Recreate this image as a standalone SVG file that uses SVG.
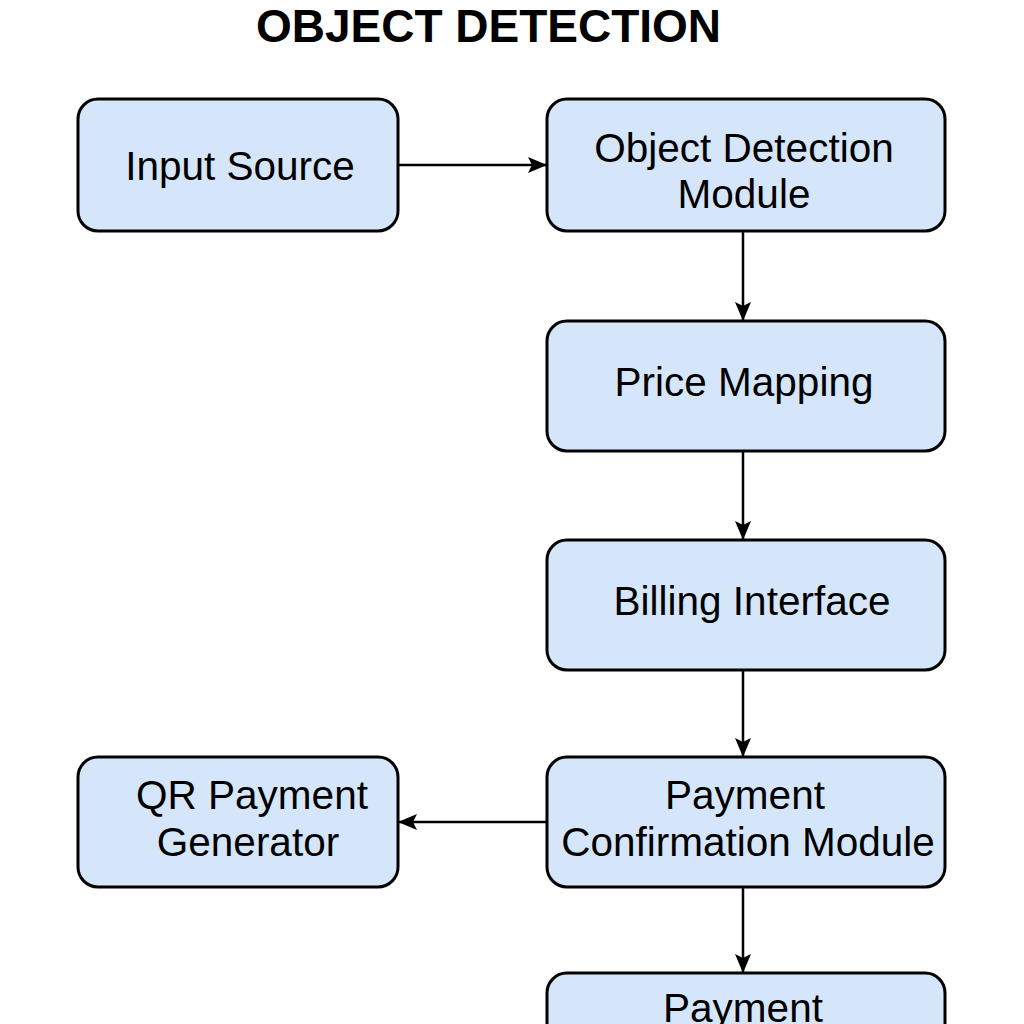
<svg xmlns="http://www.w3.org/2000/svg" width="1024" height="1024" viewBox="0 0 1024 1024">
<style>
.box{fill:#d6e6fa;stroke:#000;stroke-width:3}
.lbl{font-family:"Liberation Sans",Arial,sans-serif;font-size:40.5px;fill:#000;text-anchor:middle}
.title{font-family:"Liberation Sans",Arial,sans-serif;font-size:46px;font-weight:bold;fill:#000;text-anchor:middle}
.conn{stroke:#000;stroke-width:2.5;fill:none;marker-end:url(#arr)}
</style>
<defs>
<marker id="arr" viewBox="0 0 20 20" refX="18" refY="10" markerWidth="20" markerHeight="20" markerUnits="userSpaceOnUse" orient="auto">
<path d="M0,2 L19,10 L0,18 L4,10 Z" fill="#000"/>
</marker>
</defs>
<rect width="1024" height="1024" fill="#fff"/>
<text class="title" x="488.5" y="42">OBJECT DETECTION</text>
<g id="connectors">
<line class="conn" x1="398" y1="165" x2="546" y2="165"/>
<line class="conn" x1="743" y1="231" x2="743" y2="320"/>
<line class="conn" x1="743" y1="451" x2="743" y2="539"/>
<line class="conn" x1="743" y1="670" x2="743" y2="756"/>
<line class="conn" x1="547" y1="822" x2="399" y2="822"/>
<line class="conn" x1="743" y1="887" x2="743" y2="972"/>
</g>
<g id="input-source">
<rect class="box" x="78" y="99" width="320" height="132" rx="20"/>
<text class="lbl" x="240" y="180">Input Source</text>
</g>
<g id="object-detection">
<rect class="box" x="547" y="99" width="398" height="132" rx="20"/>
<text class="lbl" x="744" y="162">Object Detection</text>
<text class="lbl" x="744" y="208">Module</text>
</g>
<g id="price-mapping">
<rect class="box" x="547" y="321" width="398" height="130" rx="20"/>
<text class="lbl" x="744" y="396">Price Mapping</text>
</g>
<g id="billing-interface">
<rect class="box" x="547" y="540" width="398" height="130" rx="20"/>
<text class="lbl" x="752" y="615">Billing Interface</text>
</g>
<g id="payment-confirmation">
<rect class="box" x="547" y="757" width="398" height="130" rx="20"/>
<text class="lbl" x="745" y="809">Payment</text>
<text class="lbl" x="748" y="856">Confirmation Module</text>
</g>
<g id="qr-payment">
<rect class="box" x="78" y="757" width="320" height="130" rx="20"/>
<text class="lbl" x="252" y="809">QR Payment</text>
<text class="lbl" x="248" y="856">Generator</text>
</g>
<g id="payment">
<rect class="box" x="547" y="973" width="398" height="130" rx="20"/>
<text class="lbl" x="743" y="1022">Payment</text>
</g>
</svg>
